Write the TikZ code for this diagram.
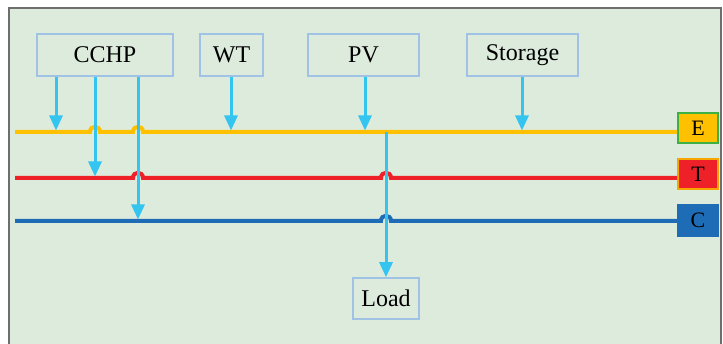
\documentclass[tikz,border=0pt]{standalone}
\usepackage{fontspec}
\setmainfont{Liberation Serif}
\usetikzlibrary{arrows.meta}

\definecolor{panelbg}{RGB}{221,235,220}
\definecolor{framegray}{RGB}{110,110,110}
\definecolor{boxblue}{RGB}{160,194,228}
\definecolor{feedblue}{RGB}{52,196,240}
\definecolor{ebuscol}{RGB}{255,192,0}
\definecolor{tbuscol}{RGB}{238,33,40}
\definecolor{cbuscol}{RGB}{30,108,182}
\definecolor{egreen}{RGB}{60,176,67}
\definecolor{torange}{RGB}{247,166,0}

\tikzset{
  srcbox/.style={draw=boxblue, line width=1.6pt, inner sep=0pt,
    minimum height=42pt, text=black, font=\fontsize{24}{24}\selectfont},
  tagbox/.style={line width=1.6pt, inner sep=0pt, minimum width=40pt,
    minimum height=30pt, text=black, font=\fontsize{22}{22}\selectfont},
  feed/.style={draw=feedblue, line width=3pt,
    -{Triangle[length=15pt,width=13pt]}},
  bus/.style={line width=4pt},
}

\begin{document}
\begin{tikzpicture}[x=1pt,y=-1pt]
\useasboundingbox (0,0) rectangle (723,344);
\fill[white] (0,0) rectangle (723,344);
\filldraw[fill=panelbg, draw=framegray, line width=1.2pt] (9,8) rectangle (721,360);

% source and load boxes
\node[srcbox, minimum width=136pt] (cchp) at (105,55) {CCHP};
\node[srcbox, minimum width=63pt] (wt) at (231.5,55) {WT};
\node[srcbox, minimum width=111pt] (pv) at (363.5,55) {PV};
\node[srcbox, minimum width=111pt] (stor) at (522.5,55) {Storage};
\node[srcbox, minimum width=66pt, minimum height=41pt] (load) at (386,298.5) {Load};

% energy carrier tags
\node[tagbox, fill=ebuscol, draw=egreen] (E) at (698,128) {E};
\node[tagbox, fill=tbuscol, draw=torange] (T) at (698,174) {T};
\node[tagbox, fill=cbuscol, draw=cbuscol, minimum height=31pt] (C) at (698,220.5) {C};

% bus start points and feed-in points
\coordinate (eL) at (15,132);
\coordinate (tL) at (15,178);
\coordinate (cL) at (15,221);
\coordinate (e1) at (56,130.5);
\coordinate (t1) at (95,176.5);
\coordinate (c1) at (138,219.5);
\coordinate (e2) at (231,130.5);
\coordinate (e3) at (365,130.5);
\coordinate (e4) at (522,130.5);
\coordinate (tap) at (386,132);

% buses, with hops where feeders cross
\draw[bus, ebuscol] (eL) -- (90,132) .. controls (90,125) and (100,125) .. (100,132)
  -- (133,132) .. controls (133,125) and (143,125) .. (143,132) -- (E.west |- eL);
\draw[bus, tbuscol] (tL) -- (133,178) .. controls (133,171) and (143,171) .. (143,178)
  -- (381,178) .. controls (381,171) and (391,171) .. (391,178) -- (T.west |- tL);
\draw[bus, cbuscol] (cL) -- (381,221) .. controls (381,214) and (391,214) .. (391,221)
  -- (C.west |- cL);

% feeders
\draw[feed] (cchp.south -| e1) -- (e1);
\draw[feed] (cchp.south -| t1) -- (t1);
\draw[feed] (cchp.south -| c1) -- (c1);
\draw[feed] (wt.south -| e2) -- (e2);
\draw[feed] (pv.south -| e3) -- (e3);
\draw[feed] (stor.south -| e4) -- (e4);
\draw[feed] (tap) -- (load.north);
\end{tikzpicture}
\end{document}
